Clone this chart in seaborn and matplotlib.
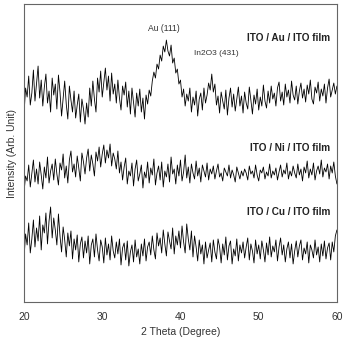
import numpy as np
import pandas as pd
import matplotlib
matplotlib.use("Agg")
import matplotlib.pyplot as plt
import seaborn as sns

# 2 Theta scan, 0.2 degree step from 20 to 60
two_theta = np.round(np.arange(20, 60.001, 0.2), 1)

# ITO / Au / ITO film (offset trace, arbitrary units)
au_counts = [
    188, 214, 205, 226, 197, 209, 232, 201, 219, 236, 204, 222, 196, 215, 228, 199, 211, 190, 224, 207,
    218, 193, 227, 210, 186, 204, 221, 198, 183, 216, 202, 190, 211, 184, 197, 208, 180, 203, 193, 178,
    199, 185, 214, 196, 221, 203, 190, 224, 210, 231, 205, 219, 234, 212, 226, 201, 229, 208, 218, 199,
    222, 204, 192, 216, 207, 220, 195, 211, 188, 214, 199, 185, 209, 196, 213, 190, 204, 183, 207, 198,
    212, 206, 221, 230, 224, 238, 233, 247, 241, 256, 250, 262, 251, 246, 257, 239, 244, 229, 233, 218,
    222, 205, 213, 196, 208, 201, 214, 190, 205, 197, 211, 186, 203, 209, 192, 214, 199, 207, 219, 212,
    228, 210, 218, 197, 206, 189, 210, 201, 193, 212, 187, 204, 214, 195, 208, 191, 203, 215, 196, 206,
    189, 210, 199, 193, 215, 202, 188, 207, 198, 213, 192, 205, 196, 217, 201, 194, 211, 199, 216, 203,
    209, 196, 214, 220, 201, 210, 197, 218, 205, 212, 199, 221, 207, 202, 216, 198, 211, 219, 204, 213,
    200, 217, 208, 222, 203, 198, 215, 209, 220, 201, 213, 206, 218, 199, 214, 223, 205, 212, 219, 208,
    216,
]

# ITO / Ni / ITO film
ni_counts = [
    110, 126, 121, 137, 115, 129, 142, 120, 133, 118, 140, 127, 113, 135, 124, 145, 119, 131, 138, 122,
    143, 128, 117, 139, 132, 148, 124, 136, 119, 142, 151, 130, 138, 125, 146, 134, 121, 149, 140, 128,
    144, 153, 131, 147, 138, 126, 150, 141, 155, 135, 148, 157, 139, 152, 144, 158, 136, 149, 143, 133,
    151, 129, 140, 122, 135, 144, 118, 131, 126, 139, 116, 133, 142, 121, 128, 137, 114, 130, 124, 140,
    119, 134, 127, 143, 117, 129, 136, 122, 140, 115, 131, 125, 138, 120, 145, 128, 133, 118, 137, 126,
    142, 121, 130, 147, 124, 135, 119, 138, 129, 123, 141, 126, 134, 120, 137, 131, 125, 139, 122, 133,
    128, 136, 123, 131, 138, 125, 129, 121, 134, 130, 126, 137, 124, 132, 127, 120, 135, 129, 123, 131,
    126, 133, 129, 122, 136, 128, 131, 124, 137, 127, 121, 132, 129, 135, 123, 130, 126, 138, 124, 131,
    127, 134, 122, 130, 137, 125, 132, 128, 139, 123, 131, 126, 136, 129, 124, 138, 127, 133, 121, 135,
    129, 141, 124, 133, 127, 139, 122, 131, 136, 128, 142, 125, 134, 130, 138, 123, 136, 129, 140, 126,
    118,
]

# ITO / Cu / ITO film
cu_counts = [
    44, 68, 57, 79, 49, 63, 82, 55, 74, 61, 86, 52, 77, 69, 89, 58, 81, 95, 64, 84,
    72, 57, 88, 66, 50, 75, 62, 45, 69, 56, 71, 43, 63, 52, 67, 40, 58, 65, 44, 61,
    49, 66, 38, 57, 63, 45, 68, 52, 41, 62, 55, 39, 64, 47, 58, 42, 66, 51, 44, 60,
    48, 63, 37, 54, 59, 42, 61, 36, 50, 57, 40, 62, 45, 53, 38, 58, 46, 63, 41, 55,
    60, 47, 66, 52, 43, 69, 56, 64, 49, 72, 58, 46, 70, 61, 53, 74, 48, 66, 57, 71,
    54, 76, 60, 49, 78, 63, 52, 71, 45, 66, 55, 41, 62, 48, 57, 38, 60, 44, 52, 59,
    40, 62, 50, 43, 63, 55, 39, 58, 47, 65, 42, 56, 61, 38, 53, 46, 63, 41, 57, 49,
    60, 44, 55, 64, 42, 58, 51, 39, 62, 48, 57, 43, 61, 52, 40, 59, 47, 65, 45, 56,
    50, 62, 41, 55, 64, 47, 57, 40, 53, 60, 44, 58, 38, 51, 61, 45, 56, 62, 42, 54,
    48, 60, 39, 57, 52, 44, 62, 47, 55, 40, 58, 46, 61, 43, 54, 59, 42, 60, 50, 66,
    72,
]

films = ["ITO / Au / ITO film", "ITO / Ni / ITO film", "ITO / Cu / ITO film"]

df = pd.DataFrame({
    "theta": np.tile(two_theta, 3),
    "counts": au_counts + ni_counts + cu_counts,
    "film": np.repeat(films, len(two_theta)),
})

sns.set_style("white")
plt.rcParams["font.family"] = ["Liberation Sans", "DejaVu Sans"]

fig = plt.figure(figsize=(3.45, 3.40), dpi=100)
ax = fig.add_axes([0.0696, 0.112, 0.907, 0.876])

sns.lineplot(
    data=df, x="theta", y="counts", units="film", estimator=None,
    color="black", linewidth=0.6, ax=ax, legend=False
)

ax.set_xlim(20, 60)
ax.set_ylim(0, 298)
ax.set_xticks([20, 30, 40, 50, 60])
ax.set_xticks([25, 35, 45, 55], minor=True)
ax.set_yticks([])
ax.tick_params(axis="x", which="major", direction="in", length=4, width=0.8,
               colors="#555555", labelcolor="#333333", labelsize=7.5, pad=7)
ax.tick_params(axis="x", which="minor", direction="in", length=3, width=0.8,
               colors="#555555")
for s in ax.spines.values():
    s.set_color("#666666")
    s.set_linewidth(0.8)

ax.set_xlabel("2 Theta (Degree)", fontsize=7.5, color="#333333", labelpad=4)
ax.set_ylabel("Intensity (Arb. Unit)", fontsize=7.5, color="#333333", labelpad=5)

label_y = [264, 154, 90]
for name, y in zip(films, label_y):
    ax.text(59.1, y, name, ha="right", va="center", fontsize=7.2,
            fontweight="bold", color="#222222")

ax.text(37.9, 274, "Au (111)", ha="center", va="center", fontsize=6.2, color="#333333")
ax.text(44.6, 249, "In2O3 (431)", ha="center", va="center", fontsize=6.0, color="#333333")

plt.savefig("out.png", dpi=100)
